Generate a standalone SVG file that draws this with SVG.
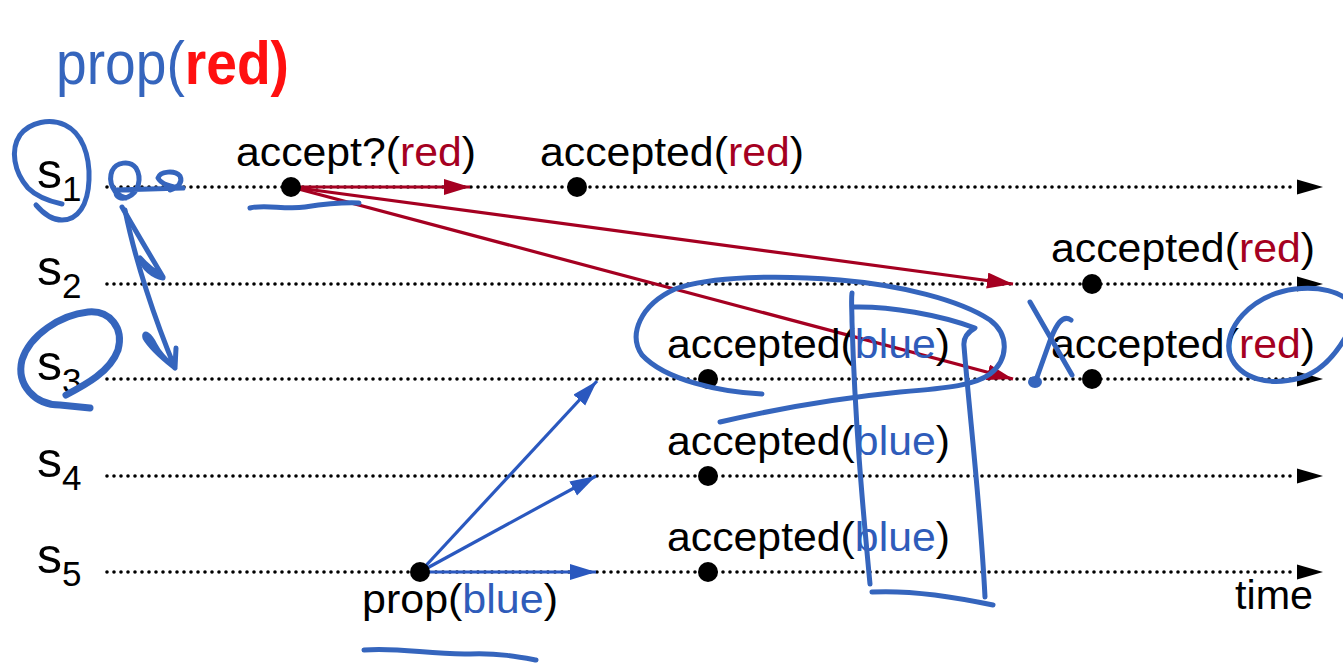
<svg xmlns="http://www.w3.org/2000/svg" width="1343" height="666" viewBox="0 0 1343 666">
  <style>
    .lbl { font-family: "Liberation Sans", Arial, sans-serif; font-size: 41px; fill: #000; }
    .sname { font-family: "Liberation Sans", Arial, sans-serif; fill: #000; }
    .red { fill: #a50021; }
    .blue { fill: #2f5cba; }
    .timeline { stroke: #000; stroke-width: 3.6; stroke-dasharray: 0 7; stroke-linecap: round; fill: none; }
    .msg-red { stroke: #a50021; stroke-width: 3.2; fill: none; }
    .msg-blue { stroke: #2a58bf; stroke-width: 3.2; fill: none; }
    .ink { stroke: #3565bd; stroke-width: 5; fill: none; stroke-linecap: round; stroke-linejoin: round; }
    .ink-thick { stroke: #3565bd; stroke-width: 7; fill: none; stroke-linecap: round; stroke-linejoin: round; }
  </style>
  <defs>
    <marker id="head-red" markerUnits="userSpaceOnUse" markerWidth="28" markerHeight="18" refX="26" refY="8" orient="auto">
      <path d="M0,0 L26,8 L0,16 Z" fill="#a50021"/>
    </marker>
    <marker id="head-blue" markerUnits="userSpaceOnUse" markerWidth="28" markerHeight="18" refX="26" refY="8" orient="auto">
      <path d="M0,0 L26,8 L0,16 Z" fill="#2a58bf"/>
    </marker>
  </defs>

  <rect width="1343" height="666" fill="#fff"/>

  <!-- process timelines -->
  <g id="timelines">
    <line class="timeline" x1="107" y1="187" x2="1296" y2="187"/>
    <polygon points="1297,179.5 1323,187 1297,194.5" fill="#000"/>
    <line class="timeline" x1="107" y1="284" x2="1296" y2="284"/>
    <polygon points="1297,276.5 1323,284 1297,291.5" fill="#000"/>
    <line class="timeline" x1="107" y1="379" x2="1296" y2="379"/>
    <polygon points="1297,371.5 1323,379 1297,386.5" fill="#000"/>
    <line class="timeline" x1="107" y1="476" x2="1296" y2="476"/>
    <polygon points="1297,468.5 1323,476 1297,483.5" fill="#000"/>
    <line class="timeline" x1="107" y1="572" x2="1296" y2="572"/>
    <polygon points="1297,564.5 1323,572 1297,579.5" fill="#000"/>
  </g>

  <!-- server names -->
  <g id="s1"><text class="sname" x="37" y="188" font-size="50">s<tspan font-size="35" dy="13">1</tspan></text></g>
  <g id="s2"><text class="sname" x="37" y="285" font-size="50">s<tspan font-size="35" dy="13">2</tspan></text></g>
  <g id="s3"><text class="sname" x="37" y="380" font-size="50">s<tspan font-size="35" dy="13">3</tspan></text></g>
  <g id="s4"><text class="sname" x="37" y="477" font-size="50">s<tspan font-size="35" dy="13">4</tspan></text></g>
  <g id="s5"><text class="sname" x="37" y="573" font-size="50">s<tspan font-size="35" dy="13">5</tspan></text></g>

  <!-- messages -->
  <g id="connectors">
    <line class="msg-red" x1="291" y1="187" x2="470" y2="187" marker-end="url(#head-red)"/>
    <line class="msg-red" x1="291" y1="187" x2="1013" y2="284" marker-end="url(#head-red)"/>
    <line class="msg-red" x1="291" y1="187" x2="1013" y2="379" marker-end="url(#head-red)"/>
    <line class="msg-blue" x1="420" y1="572" x2="597" y2="381" marker-end="url(#head-blue)"/>
    <line class="msg-blue" x1="420" y1="572" x2="596" y2="476" marker-end="url(#head-blue)"/>
    <line class="msg-blue" x1="420" y1="572" x2="596" y2="572" marker-end="url(#head-blue)"/>
  </g>

  <!-- events -->
  <g id="ev-accept-s1">
    <circle cx="291" cy="187" r="10" fill="#000"/>
    <text class="lbl" x="236" y="166" textLength="240" lengthAdjust="spacingAndGlyphs">accept?(<tspan class="red">red</tspan>)</text>
  </g>
  <g id="ev-accepted-s1">
    <circle cx="577" cy="187" r="10" fill="#000"/>
    <text class="lbl" x="540" y="166" textLength="264" lengthAdjust="spacingAndGlyphs">accepted(<tspan class="red">red</tspan>)</text>
  </g>
  <g id="ev-accepted-s2">
    <circle cx="1092" cy="284" r="10" fill="#000"/>
    <text class="lbl" x="1051" y="262" textLength="264" lengthAdjust="spacingAndGlyphs">accepted(<tspan class="red">red</tspan>)</text>
  </g>
  <g id="ev-blue-s3">
    <circle cx="708" cy="379" r="10" fill="#000"/>
    <text class="lbl" x="667" y="358" textLength="283" lengthAdjust="spacingAndGlyphs">accepted(<tspan class="blue">blue</tspan>)</text>
  </g>
  <g id="ev-red-s3">
    <circle cx="1092" cy="379" r="10" fill="#000"/>
    <text class="lbl" x="1051" y="358" textLength="264" lengthAdjust="spacingAndGlyphs">accepted(<tspan class="red">red</tspan>)</text>
  </g>
  <g id="ev-blue-s4">
    <circle cx="708" cy="476" r="10" fill="#000"/>
    <text class="lbl" x="667" y="455" textLength="283" lengthAdjust="spacingAndGlyphs">accepted(<tspan class="blue">blue</tspan>)</text>
  </g>
  <g id="ev-blue-s5">
    <circle cx="708" cy="572" r="10" fill="#000"/>
    <text class="lbl" x="667" y="551" textLength="283" lengthAdjust="spacingAndGlyphs">accepted(<tspan class="blue">blue</tspan>)</text>
  </g>
  <g id="ev-prop-s5">
    <circle cx="420" cy="572" r="10" fill="#000"/>
    <text class="lbl" x="362" y="613" textLength="196" lengthAdjust="spacingAndGlyphs">prop(<tspan class="blue">blue</tspan>)</text>
  </g>
  <g id="time-label">
    <text class="lbl" x="1235" y="609" textLength="78" lengthAdjust="spacingAndGlyphs">time</text>
  </g>

  <!-- pen annotations -->
  <g id="annotations">
    <text transform="translate(56 84) scale(0.89 1)" x="0" y="0" font-family="'Liberation Sans', Arial, sans-serif" font-size="62"><tspan fill="#3565bd">prop(</tspan><tspan font-weight="bold" fill="#ff1010">red)</tspan></text>

    <!-- loop around s1 -->
    <path class="ink" d="M62,204 C48,201 36,196 28,188 C14,172 10,150 20,135 C30,122 50,118 65,125 C82,133 90,155 89,180 C88,205 78,220 62,220 C50,220 42,212 36,205"/>
    <!-- small loop and arrow to the right -->
    <path class="ink" d="M126,198 C113,195 108,181 112,171 C116,162 130,160 136,168 C142,178 139,192 128,197 C121,200 115,197 116,190 L183,188 C172,187 161,184 158,178 C160,171 175,170 180,176 C183,182 178,188 170,190"/>
    <!-- arrows down to s2 and s3 -->
    <path class="ink" d="M122,207 C135,230 150,255 163,277 C155,272 146,265 140,258 C143,268 153,276 163,278"/>
    <path class="ink" d="M125,210 C135,260 155,320 175,368 C165,360 152,350 145,338 C143,330 150,335 155,345 C160,355 168,362 175,368 L176,348"/>
    <!-- loop around s3 -->
    <path class="ink-thick" d="M66,395 C85,385 110,372 118,350 C124,328 110,310 88,312 C60,315 30,335 22,360 C16,385 35,405 60,405 L90,408"/>
    <!-- underline under accept? -->
    <path class="ink" d="M250,208 C265,204 285,210 305,207 C325,204 340,202 359,203"/>
    <!-- underline under prop(blue) -->
    <path class="ink" stroke-width="9" d="M364,650 C400,647 430,655 470,654 C500,653 520,657 536,660"/>
    <!-- oval around accepted(blue) on s3 -->
    <path class="ink" d="M762,394 C720,392 665,380 642,355 C628,335 640,305 675,289 C710,276 780,275 840,280 C900,285 960,300 990,320 C1010,335 1008,360 990,374 C975,385 950,388 900,392 C840,398 780,408 720,422"/>
    <!-- box over the blue column -->
    <path class="ink" stroke-width="8" d="M852,293 C851,300 852,310 852,322 C855,420 862,500 870,584"/>
    <path class="ink" stroke-width="6" d="M853,307 C890,306 940,315 975,328 C968,332 963,337 964,346 C970,420 980,500 985,597"/>
    <path class="ink" d="M872,592 C910,590 960,598 993,605"/>
    <!-- cross near s3 -->
    <path class="ink" stroke-width="4" d="M1030,302 L1072,375"/>
    <path class="ink" stroke-width="9" d="M1071,320 C1062,314 1056,326 1051,338 L1036,380"/>
    <ellipse cx="1035" cy="382" rx="7" ry="6" fill="#3565bd"/>
    <!-- loop around (red) on s3 -->
    <path class="ink" stroke-width="6" d="M1345,338 C1335,355 1320,372 1300,378 C1270,386 1240,380 1230,355 C1222,330 1250,295 1295,289 C1320,286 1340,292 1350,302"/>
  </g>
</svg>
